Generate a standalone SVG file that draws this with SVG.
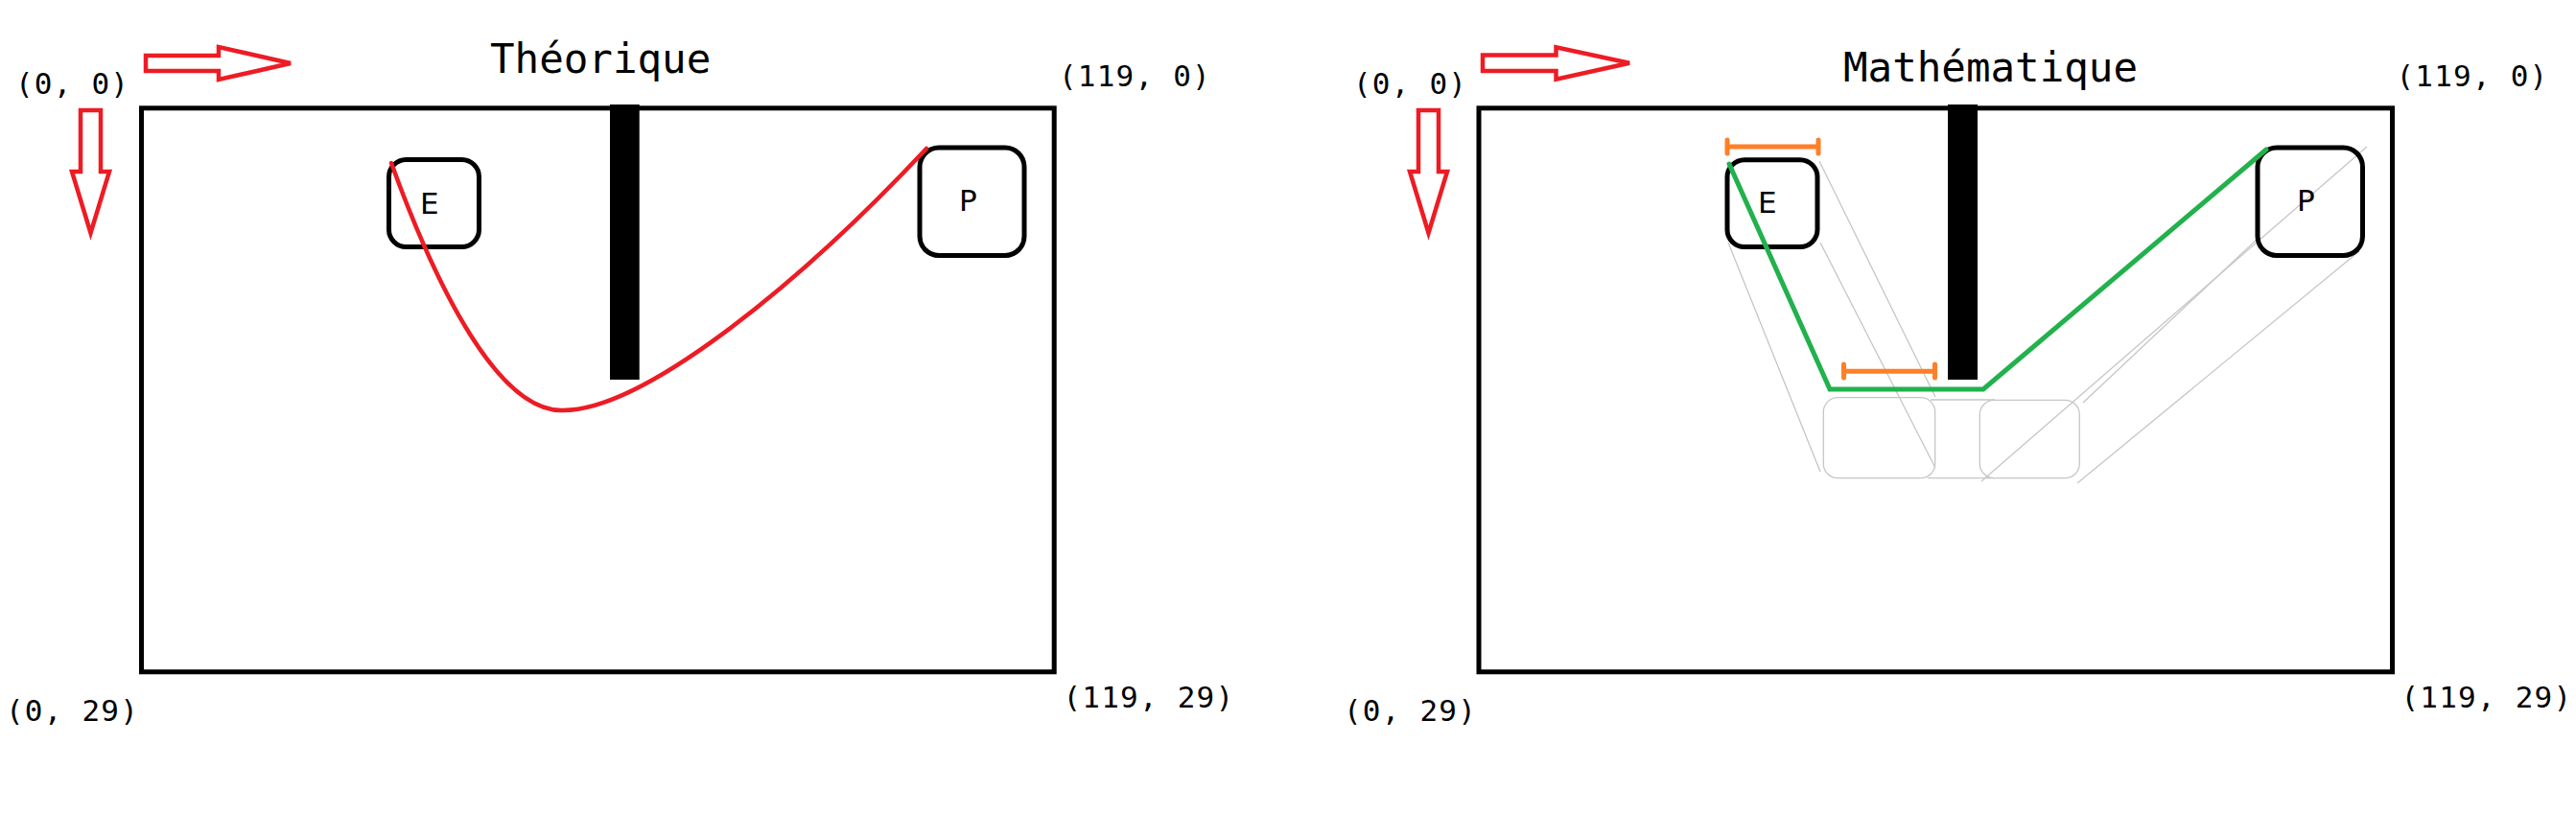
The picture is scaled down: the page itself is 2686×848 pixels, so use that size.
<svg xmlns="http://www.w3.org/2000/svg" width="2686" height="848" viewBox="0 0 2686 848">
<style>
.frame{fill:none;stroke:#000;stroke-width:5}
.box{fill:none;stroke:#000;stroke-width:5}
.bar{fill:#000}
.arrow{fill:none;stroke:#ed1c24;stroke-width:4.5;stroke-linejoin:miter}
.coord{font-family:"DejaVu Sans Mono","Liberation Mono",monospace;font-size:31px;letter-spacing:1.2px;fill:#000}
.title{font-family:"DejaVu Sans Mono","Liberation Mono",monospace;font-size:42.5px;fill:#000}
.lbl{font-family:"DejaVu Sans","Liberation Sans",sans-serif;font-size:31px;fill:#000}
.red{fill:none;stroke:#ed1c24;stroke-width:4.5;stroke-linecap:round}
.green{fill:none;stroke:#22b14c;stroke-width:5;stroke-linejoin:miter;stroke-linecap:round}
.orange{fill:none;stroke:#ff7f27;stroke-width:5;stroke-linecap:round}
.ghost{fill:none;stroke:#c6c6c6;stroke-width:1.3}
</style>
<rect width="2686" height="848" fill="#fff"/>

<!-- Left panel: Théorique -->
<g id="left-panel">
  <g id="left-axes">
    <polygon class="arrow" points="152,58 228,58 228,49 303,66 228,83 228,74 152,74"/>
    <polygon class="arrow" points="84,115 105,115 105,179 114,179 94.5,243 75,179 84,179"/>
  </g>
  <text id="left-title" class="title" x="511" y="76">Théorique</text>
  <g id="left-coords">
    <text class="coord" x="16" y="98">(0, 0)</text>
    <text class="coord" x="1104" y="90">(119, 0)</text>
    <text class="coord" x="6" y="752">(0, 29)</text>
    <text class="coord" x="1108.5" y="738">(119, 29)</text>
  </g>
  <rect id="left-frame" class="frame" x="147.5" y="112.8" width="951.7" height="588"/>
  <rect id="left-wall" class="bar" x="636" y="109" width="30.7" height="287"/>
  <g id="left-E">
    <rect class="box" x="405.5" y="166.5" width="94" height="91" rx="18"/>
    <text class="lbl" x="438" y="223">E</text>
  </g>
  <g id="left-P">
    <rect class="box" x="959" y="154" width="109" height="112.5" rx="20"/>
    <text class="lbl" x="1000" y="220">P</text>
  </g>
  <g id="left-connectors">
    <path class="red" d="M408,170 C455,300 520,430 587,428 C670,428 830,300 966,155"/>
  </g>
</g>

<!-- Right panel: Mathématique -->
<g id="right-panel">
  <g id="right-axes">
    <polygon class="arrow" points="1546,57.5 1622.5,57.5 1622.5,49.3 1699,65.7 1622.5,82.7 1622.5,74 1546,74"/>
    <polygon class="arrow" points="1479,115 1500,115 1500,179 1509,179 1489.5,243 1470,179 1479,179"/>
  </g>
  <text id="right-title" class="title" x="1922" y="85">Mathématique</text>
  <g id="right-coords">
    <text class="coord" x="1411" y="98">(0, 0)</text>
    <text class="coord" x="2498.5" y="90">(119, 0)</text>
    <text class="coord" x="1401" y="752">(0, 29)</text>
    <text class="coord" x="2503.5" y="738">(119, 29)</text>
  </g>
  <rect id="right-frame" class="frame" x="1542" y="112.8" width="952.5" height="588"/>
  <g id="ghosts">
    <rect class="ghost" x="1901.3" y="414.7" width="116.4" height="84" rx="15"/>
    <rect class="ghost" x="2064.3" y="417.3" width="104" height="81.4" rx="15"/>
    <line class="ghost" x1="2013" y1="417" x2="2080" y2="417"/>
    <line class="ghost" x1="2010" y1="498.7" x2="2080" y2="498.7"/>
    <line class="ghost" x1="1897" y1="168" x2="2018" y2="414"/>
    <line class="ghost" x1="1898" y1="253" x2="2018" y2="488"/>
    <line class="ghost" x1="1802" y1="253" x2="1898" y2="492"/>
    <line class="ghost" x1="2468" y1="153" x2="2066" y2="502"/>
    <line class="ghost" x1="2356" y1="247" x2="2172" y2="420"/>
    <line class="ghost" x1="2460" y1="262" x2="2166" y2="504"/>
  </g>
  <rect id="right-wall" class="bar" x="2031" y="109" width="31" height="287"/>
  <g id="right-E">
    <rect class="box" x="1801" y="166.8" width="94" height="90.7" rx="18"/>
    <text class="lbl" x="1833" y="222">E</text>
  </g>
  <g id="right-P">
    <rect class="box" x="2354" y="154" width="109.5" height="112.5" rx="20"/>
    <text class="lbl" x="2395" y="220">P</text>
  </g>
  <g id="right-connectors">
    <path class="green" d="M1803,171 L1908,406 L2068,406 L2363,156"/>
    <g id="widths">
      <path class="orange" d="M1801,153 H1896 M1801,146 V160 M1896,146 V160"/>
      <path class="orange" d="M1922.5,387.3 H2017.5 M1922.5,380 V394 M2017.5,380 V394"/>
    </g>
  </g>
</g>
</svg>
